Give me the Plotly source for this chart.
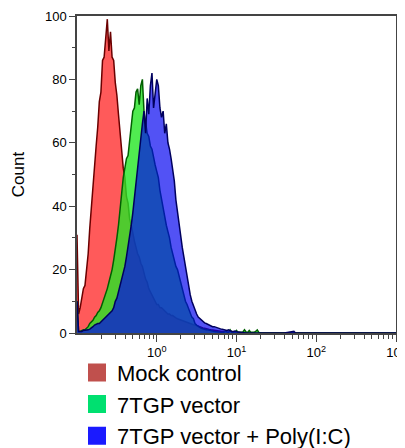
import numpy as np
import plotly.graph_objects as go

# ---- data ----
series_names = ["Mock control", "7TGP vector", "7TGP vector + Poly(I:C)"]

# log10 fluorescence channel positions (bin centres), step 0.02 decade
log_bins = [round(-1.0 + 0.02 * i, 2) for i in range(126)]

mock_counts = [
    31, 6, 8, 11, 14, 15, 20, 25, 33, 40,
    48, 52, 59, 65, 73, 76, 86, 87, 94, 99,
    89, 95, 87, 86, 79, 75, 69, 63, 57, 52,
    49, 43, 41, 36, 34, 31, 29, 27, 25, 24,
    22, 21, 19, 17, 16, 14, 13, 12, 11, 10,
    9, 9, 8, 8, 7.5, 7, 6.5, 6, 6, 5.5,
    5.5, 5, 4.8, 4.5, 4.3, 4, 3.8, 3.6, 3.5, 3.2,
    3, 2.9, 2.8, 2.6, 2.5, 2.3, 2, 1.9, 1.8, 1.6,
    1.5, 1.3, 1.2, 1.1, 1, 0.9, 0.8, 0.7, 0.6, 0.5,
    0.5, 0.4, 0.4, 0.3, 0.3, 0.2, 0.2, 0.1, 0.1, 0,
    0, 0, 0, 0, 0, 0, 0, 0, 0, 0,
    0, 0, 0, 0, 0, 0, 0, 0, 0, 0,
    0, 0, 0, 0, 0, 0,
]

vector_counts = [
    10, 0.5, 0.5, 0.8, 1, 1, 1.5, 2, 3, 3.5,
    4, 5, 5.5, 6.5, 7, 8, 9.5, 11, 12, 14,
    16, 18, 20, 23, 26, 30, 34, 40, 44, 49,
    52, 55, 56, 61, 64, 70, 71, 76, 77, 72,
    78, 80, 70, 67, 63, 62, 59, 58, 55, 53,
    51, 49, 45, 42, 39, 36, 34, 32, 30, 27,
    25, 23, 21, 20, 18, 16, 14, 12, 10, 9,
    7.5, 6, 5, 4.5, 3, 2.5, 2, 1.8, 1.5, 1.3,
    1.2, 1, 1, 0.8, 0.8, 0.6, 0.5, 0.4, 0.3, 0.3,
    0.3, 0.2, 0.2, 0.5, 0.3, 0.2, 1, 0.3, 0.2, 0.2,
    0.8, 0.2, 0.2, 0.2, 0.3, 1, 0.3, 0.2, 0.8, 0.2,
    0.2, 0.2, 0.5, 1, 0.2, 0, 0, 0, 0, 0,
    0, 0, 0, 0, 0, 0,
]

poly_counts = [
    10, 0.5, 0.5, 0.5, 0.8, 0.8, 1, 1, 1.2, 1.5,
    2, 2.5, 2.8, 3, 3, 3.5, 4, 4.5, 5, 5.5,
    6, 6.5, 7, 8, 10, 11, 13, 15, 17, 19,
    21, 24, 27, 30, 34, 38, 43, 48, 52, 57,
    62, 66, 70, 63, 74, 69, 78, 82, 71, 76,
    80, 78, 71, 68, 70, 63, 66, 60, 58, 55,
    52, 48, 42, 38, 34, 30, 27, 24, 21, 17,
    14, 12, 10, 8.5, 7, 6, 5, 4.5, 4, 3.5,
    3.2, 3, 2.7, 2.5, 2.3, 2, 2, 1.8, 1.5, 1.5,
    1.3, 1.2, 1, 1, 0.8, 1, 0.6, 0.5, 0.5, 0.6,
    0.4, 0.3, 0.2, 0.2, 0.1, 0, 0, 0, 0, 0,
    0, 0, 0, 0, 0, 0, 0, 0, 0, 0,
    0, 0, 0, 0, 0, 0,
]

# far-right channels (sparse)
tail_log = [1.6, 1.72, 1.74, 2.0, 3.0]
mock_tail = [0, 0, 0, 0, 0]
vector_tail = [0, 0, 0, 0, 0]
poly_tail = [0, 0.5, 0, 0, 0]

x_tickvals = [1, 10, 100, 1000]
x_ticktext = ["10<sup>0</sup>", "10<sup>1</sup>", "10<sup>2</sup>", "10<sup>3</sup>"]
x_minor = [m * 10.0 ** d for d in (-1, 0, 1, 2) for m in range(2, 10)]

# ---- styles ----
fill_colors = ["rgb(255,90,90)", "rgba(36,230,36,0.8)", "rgba(0,0,240,0.68)"]
line_colors = ["#6b0000", "#005f00", "#00005e"]
legend_colors = ["#c0504d", "#00e070", "#1a1aff"]
FONT = "Liberation Sans, Arial, sans-serif"

fig = go.Figure()
all_counts = [(mock_counts, mock_tail), (vector_counts, vector_tail), (poly_counts, poly_tail)]
for i, (cnt, tail) in enumerate(all_counts):
    xs = [10 ** v for v in log_bins + tail_log]
    ys = cnt + tail
    fig.add_trace(go.Scatter(
        x=xs, y=ys, mode="lines", fill="tozeroy",
        fillcolor=fill_colors[i],
        line=dict(color=line_colors[i], width=1.5),
        showlegend=False, hoverinfo="skip",
    ))

for i, name in enumerate(series_names):
    fig.add_trace(go.Scatter(
        x=[None], y=[None], mode="markers", name=name,
        marker=dict(symbol="square", size=16, color=legend_colors[i],
                    line=dict(color=legend_colors[i], width=2)),
    ))

axis_line = "#444444"
# the page body adds an 8px offset; margins compensate so the plot lands where the reference has it
fig.update_layout(
    width=405, height=448,
    margin=dict(l=69, r=17, t=8, b=123, autoexpand=False),
    paper_bgcolor="white", plot_bgcolor="white",
    font=dict(family=FONT, color="black", size=13),
    showlegend=True,
    legend=dict(x=0, xanchor="left", y=-0.059, yanchor="top",
                font=dict(family=FONT, size=22, color="black"),
                tracegroupgap=0, bgcolor="rgba(0,0,0,0)",
                itemclick=False),
    xaxis=dict(
        type="log", range=[-1, 3], automargin=False,
        tickmode="array", tickvals=x_tickvals, ticktext=x_ticktext,
        ticks="outside", ticklen=7, tickwidth=1.2, tickcolor=axis_line,
        minor=dict(tickmode="array", tickvals=x_minor, ticks="outside",
                   ticklen=4, tickwidth=1, tickcolor=axis_line),
        showline=True, linecolor=axis_line, linewidth=1.5, mirror=True,
        showgrid=False, zeroline=False,
        tickfont=dict(size=13),
    ),
    yaxis=dict(
        range=[0, 100], tickmode="linear", tick0=0, dtick=20, automargin=False,
        ticks="outside", ticklen=6, tickwidth=1.2, tickcolor=axis_line,
        minor=dict(dtick=10, ticks="outside", ticklen=3, tickwidth=1, tickcolor=axis_line),
        showline=True, linecolor=axis_line, linewidth=1.5, mirror=True,
        showgrid=False, zeroline=False,
        tickfont=dict(size=13),
        title=dict(text="Count", font=dict(size=17), standoff=16),
    ),
)

fig.write_html("out.html")
